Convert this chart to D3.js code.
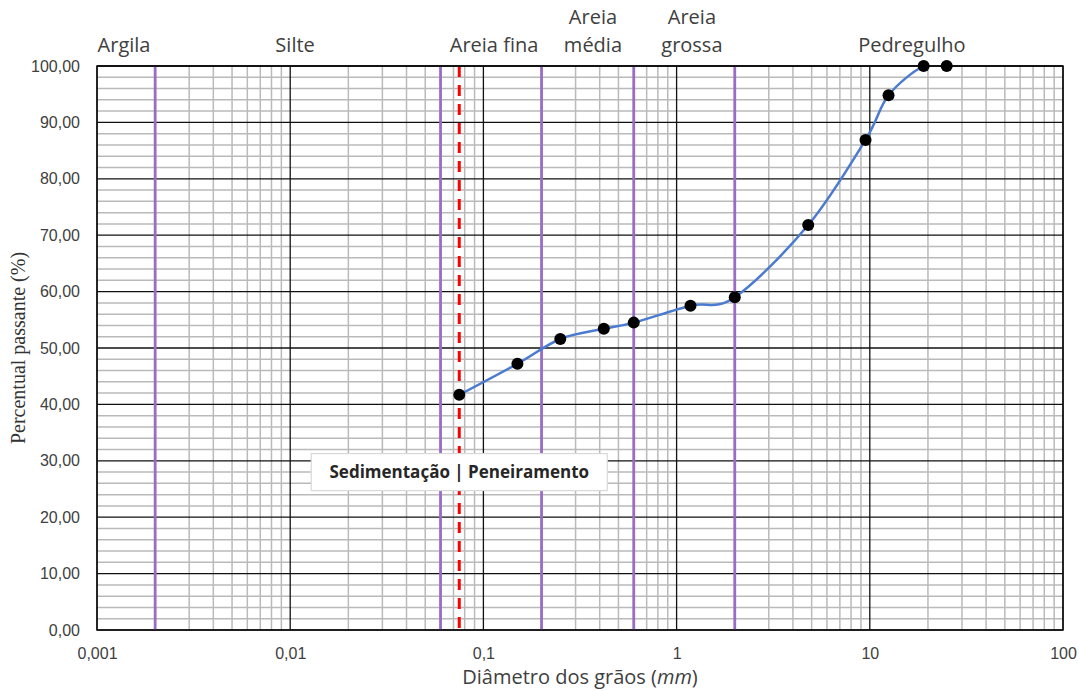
<!DOCTYPE html>
<html>
<head>
<meta charset="utf-8">
<script src="https://cdn.jsdelivr.net/npm/d3@7"></script>
<style>
  html, body { margin: 0; padding: 0; background: #fff; }
  svg { display: block; font-family: "Open Sans", sans-serif; }
  .tick-label { font-size: 16px; fill: #404040; }
  .class-label { font-size: 20px; fill: #404040; }
  .axis-title-x { font-size: 20px; fill: #404040; }
  .note-text { font-size: 17px; font-weight: bold; fill: #262626; }
</style>
</head>
<body>
<div id="chart"></div>
<script>
// sample points of the grain size curve
const diameters = [0.075, 0.15, 0.25, 0.42, 0.6, 1.18, 2.0, 4.8, 9.5, 12.5, 19, 25];
const passing = [41.7, 47.2, 51.6, 53.4, 54.5, 57.5, 59.0, 71.8, 86.9, 94.8, 100, 100];

// soil class limits (mm) and the sedimentation / sieving boundary
const classLimits = [0.002, 0.06, 0.2, 0.6, 2];
const sieveLimit = 0.075;

// class labels and the diameter each one is centred on
const classNames = [["Argila"], ["Silte"], ["Areia fina"], ["Areia", "média"], ["Areia", "grossa"], ["Pedregulho"]];
const classLabelAt = [0.00138, 0.0106, 0.1135, 0.369, 1.2, 16.5];

// axis ticks
const xTicks = [0.001, 0.01, 0.1, 1, 10, 100];
const yTicks = [0, 10, 20, 30, 40, 50, 60, 70, 80, 90, 100];
const yMinorStep = 2;

const noteText = "Sedimentação | Peneiramento";
const noteLevel = 28;

const WIDTH = 1079;
const HEIGHT = 691;
const margin = {top: 66, right: 16, bottom: 61, left: 97};

const ptBR = d3.formatLocale({decimal: ",", thousands: ".", grouping: [3], currency: ["R$", ""]});
const fmtY = ptBR.format(".2f");
const fmtX = d => ptBR.format("~g")(d);

const svg = d3.select("#chart")
    .append("svg")
    .attr("width", WIDTH)
    .attr("height", HEIGHT);

const plotW = WIDTH - margin.left - margin.right;
const plotH = HEIGHT - margin.top - margin.bottom;

const g = svg.append("g")
    .attr("transform", `translate(${margin.left},${margin.top})`);

const xScale = d3.scaleLog()
    .domain([xTicks[0], xTicks[xTicks.length - 1]])
    .range([0, plotW]);

const yScale = d3.scaleLinear()
    .domain([yTicks[0], yTicks[yTicks.length - 1]])
    .range([plotH, 0]);

// minor grid (log 2..9 per decade, every 2% vertically)
const xMinor = [];
for (let i = 0; i < xTicks.length - 1; i++) {
    for (let k = 2; k <= 9; k++) xMinor.push(xTicks[i] * k);
}
const yMinor = d3.range(yTicks[0], yTicks[yTicks.length - 1], yMinorStep).filter(v => v % 10 !== 0);

g.append("g")
    .selectAll("line")
    .data(yMinor)
    .join("line")
    .attr("x1", 0).attr("x2", plotW)
    .attr("y1", d => yScale(d)).attr("y2", d => yScale(d))
    .attr("stroke", "#bababa").attr("stroke-width", 1.5);

g.append("g")
    .selectAll("line")
    .data(xMinor)
    .join("line")
    .attr("x1", d => xScale(d)).attr("x2", d => xScale(d))
    .attr("y1", 0).attr("y2", plotH)
    .attr("stroke", "#bababa").attr("stroke-width", 1.5);

// major grid
g.append("g")
    .selectAll("line")
    .data(yTicks)
    .join("line")
    .attr("x1", 0).attr("x2", plotW)
    .attr("y1", d => yScale(d)).attr("y2", d => yScale(d))
    .attr("stroke", "#111").attr("stroke-width", 1.3);

g.append("g")
    .selectAll("line")
    .data(xTicks)
    .join("line")
    .attr("x1", d => xScale(d)).attr("x2", d => xScale(d))
    .attr("y1", 0).attr("y2", plotH)
    .attr("stroke", "#111").attr("stroke-width", 1.3);

// class limits
g.append("g")
    .selectAll("line")
    .data(classLimits)
    .join("line")
    .attr("x1", d => xScale(d)).attr("x2", d => xScale(d))
    .attr("y1", 0).attr("y2", plotH)
    .attr("stroke", "#9b6cc6").attr("stroke-width", 2.8);

// sedimentation | sieving boundary
g.append("line")
    .attr("x1", xScale(sieveLimit)).attr("x2", xScale(sieveLimit))
    .attr("y1", 0).attr("y2", plotH)
    .attr("stroke", "#ff0000").attr("stroke-width", 3)
    .attr("stroke-dasharray", "11,8");

// plot frame
g.append("rect")
    .attr("width", plotW).attr("height", plotH)
    .attr("fill", "none").attr("stroke", "#111").attr("stroke-width", 1.5);

// curve
const pts = diameters.map((d, i) => ({d: d, p: passing[i]}));

svg.append("defs").append("clipPath")
    .attr("id", "plot-clip")
    .append("rect")
    .attr("width", plotW).attr("height", plotH);

const line = d3.line()
    .x(d => xScale(d.d))
    .y(d => yScale(d.p))
    .curve(d3.curveCatmullRom.alpha(0));

g.append("path")
    .datum(pts)
    .attr("clip-path", "url(#plot-clip)")
    .attr("d", line)
    .attr("fill", "none")
    .attr("stroke", "#4a7bd0")
    .attr("stroke-width", 2.5);

g.append("line")
    .attr("x1", 0).attr("x2", plotW)
    .attr("y1", 0).attr("y2", 0)
    .attr("stroke", "#111").attr("stroke-width", 1.5);

g.append("g")
    .selectAll("circle")
    .data(pts)
    .join("circle")
    .attr("cx", d => xScale(d.d))
    .attr("cy", d => yScale(d.p))
    .attr("r", 6)
    .attr("fill", "#000");

// axes (labels only)
const yAxis = g.append("g")
    .call(d3.axisLeft(yScale).tickValues(yTicks).tickSize(0).tickPadding(17).tickFormat(fmtY));
yAxis.select(".domain").remove();
yAxis.selectAll("text").attr("class", "tick-label").attr("font-family", null).attr("font-size", null).attr("fill", null);

const xAxis = g.append("g")
    .attr("transform", `translate(0,${plotH})`)
    .call(d3.axisBottom(xScale).tickValues(xTicks).tickSize(0).tickPadding(18).tickFormat(fmtX));
xAxis.select(".domain").remove();
xAxis.selectAll("text").attr("class", "tick-label").attr("font-family", null).attr("font-size", null).attr("fill", null);

// class names above the plot
const labels = g.append("g")
    .selectAll("text")
    .data(classNames)
    .join("text")
    .attr("class", "class-label")
    .attr("text-anchor", "middle")
    .attr("x", (d, i) => xScale(classLabelAt[i]))
    .attr("y", -14);

labels.selectAll("tspan")
    .data(d => d.map((t, j) => ({t: t, row: j - d.length + 1})))
    .join("tspan")
    .attr("x", function () { return d3.select(this.parentNode).attr("x"); })
    .attr("y", d => -14 + d.row * 28)
    .text(d => d.t);

// note box on the boundary
const noteG = g.append("g")
    .attr("transform", `translate(${xScale(sieveLimit)},${yScale(noteLevel)})`);
noteG.append("rect")
    .attr("x", -148).attr("y", -18.5)
    .attr("width", 296).attr("height", 37)
    .attr("fill", "#fff")
    .attr("stroke", "#d9d9d9").attr("stroke-width", 1.2);
noteG.append("text")
    .attr("class", "note-text")
    .attr("text-anchor", "middle")
    .attr("dy", "0.35em")
    .text(noteText);

// axis titles
const xTitle = svg.append("text")
    .attr("class", "axis-title-x")
    .attr("text-anchor", "middle")
    .attr("x", margin.left + plotW / 2)
    .attr("y", 684);
xTitle.append("tspan").text("Diâmetro dos grãos (");
xTitle.append("tspan").attr("font-style", "italic").text("mm");
xTitle.append("tspan").text(")");

svg.append("text")
    .attr("text-anchor", "middle")
    .style("font-family", "'Liberation Serif', 'Times New Roman', 'DejaVu Serif', serif")
    .style("font-size", "20px")
    .style("fill", "#333")
    .attr("transform", `translate(25,${margin.top + plotH / 2}) rotate(-90)`)
    .text("Percentual passante (%)");
</script>
</body>
</html>
